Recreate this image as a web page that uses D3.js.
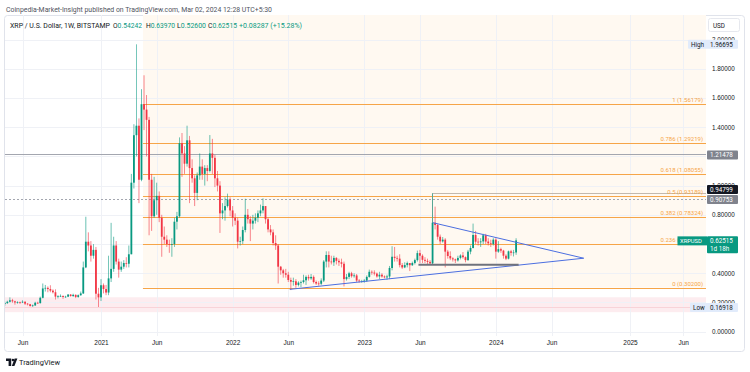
<!DOCTYPE html>
<html>
<head>
<meta charset="utf-8">
<title>XRPUSD 1W</title>
<script src="https://cdnjs.cloudflare.com/ajax/libs/d3/7.8.5/d3.min.js"></script>
<style>
  body { margin: 0; background: #fff; }
  svg { display: block; font-family: Roboto, "Open Sans", sans-serif; }
  .tick text { fill: #131722; }
</style>
</head>
<body>
<svg id="chart" width="750" height="372"></svg>
<script>
// weekly candles, first bar is the week of 13 Apr 2020, open = previous close
var firstWeek = "2020-04-13";
var firstOpen = 0.190;

var close2020 = [0.196,0.205,0.215,0.208,0.200,0.202,0.200,0.205,0.192,0.188,0.176,0.180,0.198,0.196,0.232,0.296,0.300,0.292,0.281,0.270,0.240,0.243,0.245,0.238,0.240,0.254,0.244,0.252,0.238,0.250,0.262,0.440,0.616,0.590,0.520,0.560,0.260,0.235];
var high2020  = [0.205,0.212,0.235,0.225,0.212,0.208,0.206,0.215,0.208,0.196,0.190,0.186,0.205,0.205,0.240,0.330,0.320,0.310,0.318,0.290,0.290,0.250,0.255,0.247,0.246,0.258,0.258,0.260,0.256,0.255,0.275,0.480,0.787,0.680,0.620,0.600,0.580,0.300];
var low2020   = [0.178,0.190,0.200,0.198,0.185,0.192,0.190,0.196,0.183,0.180,0.172,0.170,0.176,0.190,0.192,0.228,0.275,0.270,0.270,0.262,0.220,0.228,0.238,0.225,0.232,0.237,0.240,0.238,0.230,0.232,0.245,0.258,0.435,0.550,0.480,0.500,0.220,0.169];

var close2021 = [0.318,0.292,0.268,0.365,0.430,0.590,0.480,0.425,0.445,0.470,0.465,0.530,1.020,1.345,1.410,1.040,1.557,1.520,1.450,1.040,0.790,0.900,0.930,0.780,0.650,0.630,0.600,0.595,0.600,0.753,0.790,1.290,1.220,1.150,1.310,1.120,1.050,0.950,1.070,1.130,1.080,1.120,1.100,1.220,1.190,1.050,1.000,0.810,0.830,0.860,0.905,0.830];
var high2021  = [0.360,0.330,0.320,0.520,0.745,0.650,0.620,0.500,0.480,0.490,0.510,0.590,1.080,1.420,1.96695,1.460,1.660,1.755,1.620,1.470,1.080,1.060,1.020,0.960,0.800,0.720,0.660,0.630,0.640,0.780,0.820,1.330,1.360,1.270,1.410,1.340,1.180,1.070,1.090,1.220,1.180,1.140,1.140,1.346,1.320,1.210,1.100,1.030,0.880,0.920,0.945,0.920];
var low2021   = [0.210,0.262,0.250,0.250,0.340,0.410,0.460,0.370,0.410,0.430,0.440,0.440,0.530,0.980,1.200,0.880,1.030,1.380,1.200,0.660,0.690,0.780,0.800,0.750,0.513,0.600,0.580,0.540,0.513,0.580,0.700,0.780,1.060,1.080,1.130,0.880,1.020,0.860,0.900,1.040,1.040,1.000,1.030,1.090,1.080,0.990,0.960,0.676,0.770,0.760,0.850,0.790];

var close2022 = [0.780,0.760,0.616,0.620,0.696,0.800,0.770,0.740,0.760,0.780,0.810,0.830,0.860,0.770,0.700,0.680,0.607,0.590,0.445,0.420,0.400,0.390,0.354,0.342,0.345,0.320,0.336,0.340,0.352,0.375,0.365,0.375,0.340,0.330,0.328,0.350,0.480,0.525,0.480,0.475,0.505,0.485,0.475,0.465,0.360,0.375,0.400,0.380,0.385,0.350,0.345,0.345];
var high2022  = [0.860,0.810,0.780,0.650,0.720,0.910,0.840,0.790,0.800,0.810,0.830,0.870,0.913,0.860,0.780,0.730,0.700,0.660,0.600,0.450,0.430,0.430,0.410,0.370,0.370,0.360,0.345,0.350,0.390,0.385,0.390,0.395,0.385,0.350,0.345,0.365,0.490,0.550,0.550,0.520,0.520,0.510,0.500,0.500,0.480,0.395,0.410,0.410,0.400,0.395,0.360,0.355];
var low2022   = [0.720,0.730,0.570,0.590,0.600,0.680,0.740,0.620,0.700,0.740,0.750,0.790,0.810,0.740,0.680,0.660,0.590,0.560,0.330,0.390,0.370,0.370,0.340,0.285,0.315,0.300,0.310,0.305,0.330,0.320,0.350,0.355,0.330,0.320,0.315,0.320,0.340,0.440,0.440,0.460,0.450,0.460,0.450,0.440,0.310,0.350,0.360,0.370,0.370,0.340,0.335,0.335];

var close2023 = [0.350,0.375,0.410,0.405,0.398,0.378,0.390,0.378,0.372,0.378,0.436,0.513,0.505,0.500,0.456,0.440,0.456,0.470,0.455,0.470,0.490,0.538,0.520,0.492,0.485,0.478,0.468,0.746,0.730,0.650,0.618,0.630,0.548,0.518,0.502,0.495,0.488,0.505,0.522,0.510,0.490,0.548,0.573,0.662,0.616,0.612,0.618,0.660,0.617,0.605,0.600,0.630];
var high2023  = [0.360,0.385,0.425,0.420,0.420,0.405,0.410,0.400,0.385,0.390,0.450,0.585,0.580,0.520,0.530,0.470,0.475,0.480,0.470,0.480,0.500,0.555,0.560,0.530,0.510,0.500,0.490,0.948,0.856,0.740,0.665,0.648,0.640,0.560,0.550,0.510,0.500,0.520,0.530,0.545,0.515,0.560,0.590,0.740,0.690,0.640,0.640,0.670,0.670,0.640,0.630,0.640];
var low2023   = [0.335,0.340,0.370,0.390,0.385,0.370,0.360,0.370,0.365,0.355,0.360,0.420,0.480,0.480,0.440,0.430,0.435,0.440,0.415,0.450,0.460,0.480,0.470,0.470,0.470,0.460,0.460,0.465,0.700,0.630,0.600,0.610,0.440,0.500,0.490,0.480,0.470,0.480,0.495,0.500,0.475,0.485,0.530,0.570,0.600,0.590,0.580,0.600,0.600,0.590,0.580,0.590];

var close2024 = [0.548,0.565,0.555,0.520,0.500,0.550,0.540,0.54242,0.62515];
var high2024  = [0.640,0.620,0.575,0.560,0.530,0.555,0.560,0.560,0.63970];
var low2024   = [0.500,0.540,0.540,0.500,0.490,0.495,0.520,0.515,0.52600];

// fibonacci retracement drawn from the 2021 top
var fibStart = "2021-04-30";
var fibRatios = ["1", "0.786", "0.618", "0.5", "0.382", "0.236", "0"];
var fibPrices = [1.56179, 1.29219, 1.08055, 0.93189, 0.78324, 0.59931, 0.30200];

// drawings
var triangleUpper = [["2023-07-11", 0.746], ["2024-08-31", 0.503]];
var triangleLower = [["2022-06-10", 0.290], ["2024-08-31", 0.503]];
var supportLine = [["2023-06-01", 0.4586], ["2024-03-04", 0.4586]];
var boxStart = "2023-07-09";
var boxTop = 0.94799;
var levelSolid = 1.21478;
var levelDotted = 0.90753;
var rangeHigh = 1.96695;
var rangeLow = 0.16918;
var lowBand = [0.1335, 0.2355];
var lastPrice = 0.62515;

// 0.6 and 1.2 sit under the price tags, as in the reference
var priceTicks = [0, 0.2, 0.4, 0.8, 1.0, 1.4, 1.6, 1.8, 2.0];
var gridPrices = [0, 0.2, 0.4, 0.6, 0.8, 1.0, 1.2, 1.4, 1.6, 1.8, 2.0];
var timeTicks = ["2020-06-01","2021-01-04","2021-06-07","2022-01-03","2022-06-06","2023-01-02","2023-06-05","2024-01-01","2024-06-03","2025-01-06","2025-06-02"];
var timeLabels = ["Jun","2021","Jun","2022","Jun","2023","Jun","2024","Jun","2025","Jun"];

var parse = d3.utcParse("%Y-%m-%d");
var closes = [].concat(close2020, close2021, close2022, close2023, close2024);
var highs = [].concat(high2020, high2021, high2022, high2023, high2024);
var lows = [].concat(low2020, low2021, low2022, low2023, low2024);
var start = parse(firstWeek);
var candles = closes.map(function(c, i){
  return {date: d3.utcDay.offset(start, 7 * i), open: i ? closes[i-1] : firstOpen, high: highs[i], low: lows[i], close: c};
});

var pL = 5, pR = 706, pT = 15, pB = 336;
var x = d3.scaleTime().domain([parse("2021-01-04"), parse("2025-01-06")]).range([101, 630]);
var y = d3.scaleLinear().domain([0, 2]).range([331.7, 39.5]);
var crisp = function(v){ return Math.round(v) + 0.5; };

var up = "#089981", down = "#f23645", fibColor = "#f6a548";
var svg = d3.select("#chart");

// header
svg.append("text").attr("x", 6).attr("y", 11.5).attr("font-size", 6.4).attr("fill", "#50535e")
  .attr("textLength", 266).attr("lengthAdjust", "spacingAndGlyphs")
  .text("Coinpedia-Market-Insight published on TradingView.com, Mar 02, 2024 12:28 UTC+5:30");

svg.append("rect").attr("x", 4.5).attr("y", 15.5).attr("width", 740).attr("height", 336).attr("rx", 3)
  .attr("fill", "#fff").attr("stroke", "#e0e3eb");

var defs = svg.append("defs");
defs.append("clipPath").attr("id", "plotclip").append("rect")
  .attr("x", pL).attr("y", pT).attr("width", pR - pL).attr("height", pB - pT);

var plot = svg.append("g").attr("clip-path", "url(#plotclip)");
var fx = x(parse(fibStart));

// fib background + low band
plot.append("rect").attr("x", fx).attr("y", pT)
  .attr("width", pR - fx).attr("height", y(fibPrices[6]) - pT)
  .attr("fill", "#fff9f1");
plot.append("rect").attr("x", pL).attr("y", y(lowBand[1]))
  .attr("width", pR - pL).attr("height", y(lowBand[0]) - y(lowBand[1]))
  .attr("fill", "#fdecef");

// grid
plot.selectAll(".hgrid").data(gridPrices).enter().append("line")
  .attr("x1", pL).attr("x2", pR)
  .attr("y1", function(d){ return crisp(y(d)); }).attr("y2", function(d){ return crisp(y(d)); })
  .attr("stroke", "#eff1f6");
plot.selectAll(".vgrid").data(timeTicks).enter().append("line")
  .attr("x1", function(d){ return crisp(x(parse(d))); }).attr("x2", function(d){ return crisp(x(parse(d))); })
  .attr("y1", pT).attr("y2", pB)
  .attr("stroke", "#eff1f6");

plot.append("line").attr("x1", pL).attr("x2", pR)
  .attr("y1", crisp(y(rangeLow))).attr("y2", crisp(y(rangeLow))).attr("stroke", "#f8d3d8");

// fib levels
fibPrices.forEach(function(p, i){
  var yy = crisp(y(p));
  plot.append("line").attr("x1", fx).attr("x2", pR)
    .attr("y1", yy).attr("y2", yy).attr("stroke", fibColor);
  svg.append("text").attr("x", 703).attr("y", yy - 2.5).attr("text-anchor", "end")
    .attr("font-size", 6).attr("fill", fibColor)
    .text(fibRatios[i] + " (" + p.toFixed(5) + ")");
});

// horizontal levels
plot.append("line").attr("x1", pL).attr("x2", pR)
  .attr("y1", crisp(y(levelSolid))).attr("y2", crisp(y(levelSolid))).attr("stroke", "#a3a6af");
plot.append("line").attr("x1", pL).attr("x2", pR)
  .attr("y1", crisp(y(levelDotted))).attr("y2", crisp(y(levelDotted)))
  .attr("stroke", "#a3a6af").attr("stroke-dasharray", "2,2");

// box from the july spike
plot.append("path")
  .attr("d", "M" + pR + "," + crisp(y(boxTop)) + "H" + crisp(x(parse(boxStart))) + "V" + y(supportLine[0][1]))
  .attr("fill", "none").attr("stroke", "#c2b8ad");

// candles
var cg = plot.append("g").selectAll("g").data(candles).enter().append("g");
cg.append("line")
  .attr("x1", function(d){ return x(d.date); }).attr("x2", function(d){ return x(d.date); })
  .attr("y1", function(d){ return y(d.high); }).attr("y2", function(d){ return y(d.low); })
  .attr("stroke", function(d){ return d.close >= d.open ? up : down; })
  .attr("stroke-width", 0.8).attr("opacity", 0.75);
cg.append("rect")
  .attr("x", function(d){ return x(d.date) - 0.9; }).attr("width", 1.8)
  .attr("y", function(d){ return y(Math.max(d.open, d.close)); })
  .attr("height", function(d){ return Math.max(0.7, Math.abs(y(d.open) - y(d.close))); })
  .attr("fill", function(d){ return d.close >= d.open ? up : down; });

// trend lines
var line = d3.line().x(function(d){ return x(parse(d[0])); }).y(function(d){ return y(d[1]); });
plot.append("path").attr("d", line(triangleUpper)).attr("fill", "none").attr("stroke", "#4c6fe0");
plot.append("path").attr("d", line(triangleLower)).attr("fill", "none").attr("stroke", "#4c6fe0");
plot.append("path").attr("d", line(supportLine)).attr("fill", "none").attr("stroke", "#6f727c").attr("stroke-width", 2);

// legend
var legend = svg.append("g").attr("font-size", 6.5);
legend.append("text").attr("x", 10).attr("y", 27.5).attr("fill", "#131722")
  .attr("textLength", 100).attr("lengthAdjust", "spacingAndGlyphs").text("XRP / U.S. Dollar, 1W, BITSTAMP");
var ohlc = [["O", "0.54242", 113], ["H", "0.63970", 146], ["L", "0.52600", 177], ["C", "0.62515", 208]];
ohlc.forEach(function(d){
  var t = legend.append("text").attr("x", d[2]).attr("y", 27.5)
    .attr("textLength", 29).attr("lengthAdjust", "spacingAndGlyphs");
  t.append("tspan").attr("fill", "#131722").text(d[0]);
  t.append("tspan").attr("fill", up).text(d[1]);
});
legend.append("text").attr("x", 239).attr("y", 27.5).attr("fill", up)
  .attr("textLength", 63).attr("lengthAdjust", "spacingAndGlyphs").text("+0.08287 (+15.28%)");

// axes
var yAxis = svg.append("g").attr("transform", "translate(" + pR + ",0)")
  .call(d3.axisRight(y).tickValues(priceTicks).tickFormat(d3.format(".5f")).tickSize(0).tickPadding(6));
yAxis.select(".domain").remove();
yAxis.selectAll("text").attr("font-size", 6.3);

var xAxis = svg.append("g").attr("transform", "translate(0," + pB + ")")
  .call(d3.axisBottom(x).tickValues(timeTicks.map(parse))
    .tickFormat(function(d, i){ return timeLabels[i]; }).tickSize(0).tickPadding(4));
xAxis.select(".domain").remove();
xAxis.selectAll("text").attr("font-size", 6.5);

// price axis labels
function tag(yc, bg, fg, label, x0, w){
  svg.append("rect").attr("x", x0).attr("y", yc - 4.5).attr("width", w).attr("height", 9).attr("rx", 1).attr("fill", bg);
  svg.append("text").attr("x", 710).attr("y", yc + 2.2).attr("font-size", 6.3).attr("fill", fg).text(label);
}
svg.append("rect").attr("x", 708.5).attr("y", 18.5).attr("width", 31).attr("height", 13).attr("rx", 2)
  .attr("fill", "#fff").attr("stroke", "#e6e8ee");
svg.append("text").attr("x", 713).attr("y", 27.5).attr("font-size", 6.3).attr("fill", "#131722").text("USD");

tag(y(rangeHigh), "#e1ebfb", "#131722", rangeHigh.toFixed(5), 688, 50);
svg.append("text").attr("x", 691).attr("y", y(rangeHigh) + 2.2).attr("font-size", 6.3).attr("fill", "#131722").text("High");
tag(y(levelSolid) + 0.8, "#80838d", "#fff", levelSolid.toFixed(5), 707, 31);
tag(189.5, "#131722", "#fff", boxTop.toFixed(5), 707, 31);
tag(199.5, "#80838d", "#fff", levelDotted.toFixed(5), 707, 31);
tag(y(rangeLow) + 0.5, "#e1ebfb", "#131722", rangeLow.toFixed(5), 690, 48);
svg.append("text").attr("x", 693).attr("y", y(rangeLow) + 2.7).attr("font-size", 6.3).attr("fill", "#131722").text("Low");

// last price
var ly = y(lastPrice);
svg.append("rect").attr("x", 677.5).attr("y", ly - 4).attr("width", 29.5).attr("height", 9).attr("fill", up);
svg.append("text").attr("x", 680).attr("y", ly + 2.5).attr("font-size", 5.8).attr("fill", "#fff").text("XRPUSD");
svg.append("rect").attr("x", 707).attr("y", ly - 4).attr("width", 31).attr("height", 17).attr("rx", 1).attr("fill", up);
svg.append("text").attr("x", 710).attr("y", ly + 2.5).attr("font-size", 6.3).attr("fill", "#fff").text(lastPrice.toFixed(5));
svg.append("text").attr("x", 710).attr("y", ly + 10.5).attr("font-size", 6.3).attr("fill", "#fff").text("1d 18h");

// footer logo
var logo = svg.append("g").attr("fill", "#131722");
logo.append("path").attr("d", "M6,358.5h5.2v7.5h-2.6v-5h-2.6z");
logo.append("circle").attr("cx", 12.9).attr("cy", 360).attr("r", 1.3);
logo.append("path").attr("d", "M14.6,358.5h2.8l-3,7.5h-2.6z");
svg.append("text").attr("x", 19).attr("y", 364.8).attr("font-size", 7.2).attr("fill", "#131722")
  .attr("textLength", 41).attr("lengthAdjust", "spacingAndGlyphs").text("TradingView");
</script>
</body>
</html>
